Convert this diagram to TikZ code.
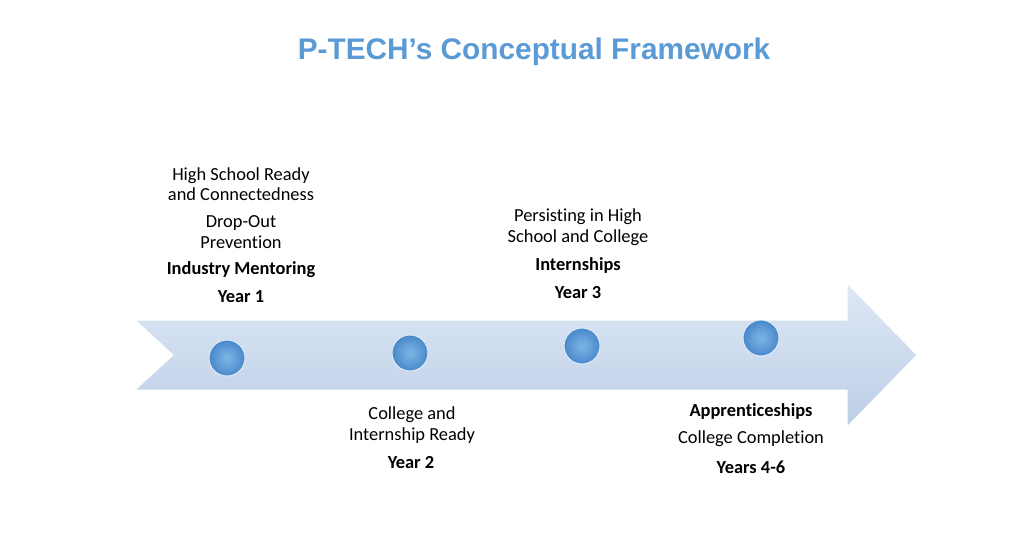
\documentclass[tikz,border=0pt]{standalone}
\usepackage{fontspec}
\setmainfont{Carlito}[Ligatures=CommonOff]
\newfontfamily\headfont{Liberation Sans}
\definecolor{ptblue}{RGB}{91,155,213}
\definecolor{balllight}{RGB}{128,182,230}
\definecolor{balldark}{RGB}{72,136,202}
\definecolor{shafttop}{RGB}{222,232,245}
\definecolor{shaftbot}{RGB}{188,206,230}
\tikzset{
  stage/.style={align=center, inner sep=0pt, font=\fontsize{18.4}{20.5}\selectfont},
  stagebold/.style={stage, font=\fontsize{18.4}{20.5}\selectfont\bfseries},
  bubble/.style={circle, minimum size=36pt, inner sep=0pt, shading=radial, inner color=balllight, outer color=balldark, draw=white!80!ptblue, line width=1pt}
}
\begin{document}
\begin{tikzpicture}[x=1pt,y=-1pt]
\useasboundingbox (0,0) rectangle (1024,552);
% title
\node (title) at (534,52) {\headfont\fontsize{29.8}{34}\selectfont\bfseries\color{ptblue}P-TECH’s Conceptual Framework};
% timeline arrow
\shade[top color=shafttop, bottom color=shaftbot, draw=white, line width=1pt]
  (135,320) -- (847,320) -- (847,283) -- (917,355) -- (847,427) -- (847,390)
  -- (135,390) -- (173,355) -- cycle;
% milestones
\node[bubble] (y1) at (227,358) {};
\node[bubble] (y2) at (410,353) {};
\node[bubble] (y3) at (582,346) {};
\node[bubble] (y4) at (761,338) {};
% year 1
\node[stage] (ready) at (241,184) {High School Ready\\and Connectedness};
\node[stage] (drop) at (241,232) {Drop-Out\\Prevention};
\node[stagebold] (mentor) at (241,270) {Industry Mentoring};
\node[stagebold] (yr1) at (241,297) {Year 1};
% year 2
\node[stage] (college) at (412,425) {College and\\Internship Ready};
\node[stagebold] (yr2) at (411,463) {Year 2};
% year 3
\node[stage] (persist) at (578,227) {Persisting in High\\School and College};
\node[stagebold] (intern) at (578,265) {Internships};
\node[stagebold] (yr3) at (578,293) {Year 3};
% years 4-6
\node[stagebold] (appr) at (751,411) {Apprenticeships};
\node[stage] (complete) at (751,439) {College Completion};
\node[stagebold] (yr4) at (751,467) {Years 4-6};
\end{tikzpicture}
\end{document}
